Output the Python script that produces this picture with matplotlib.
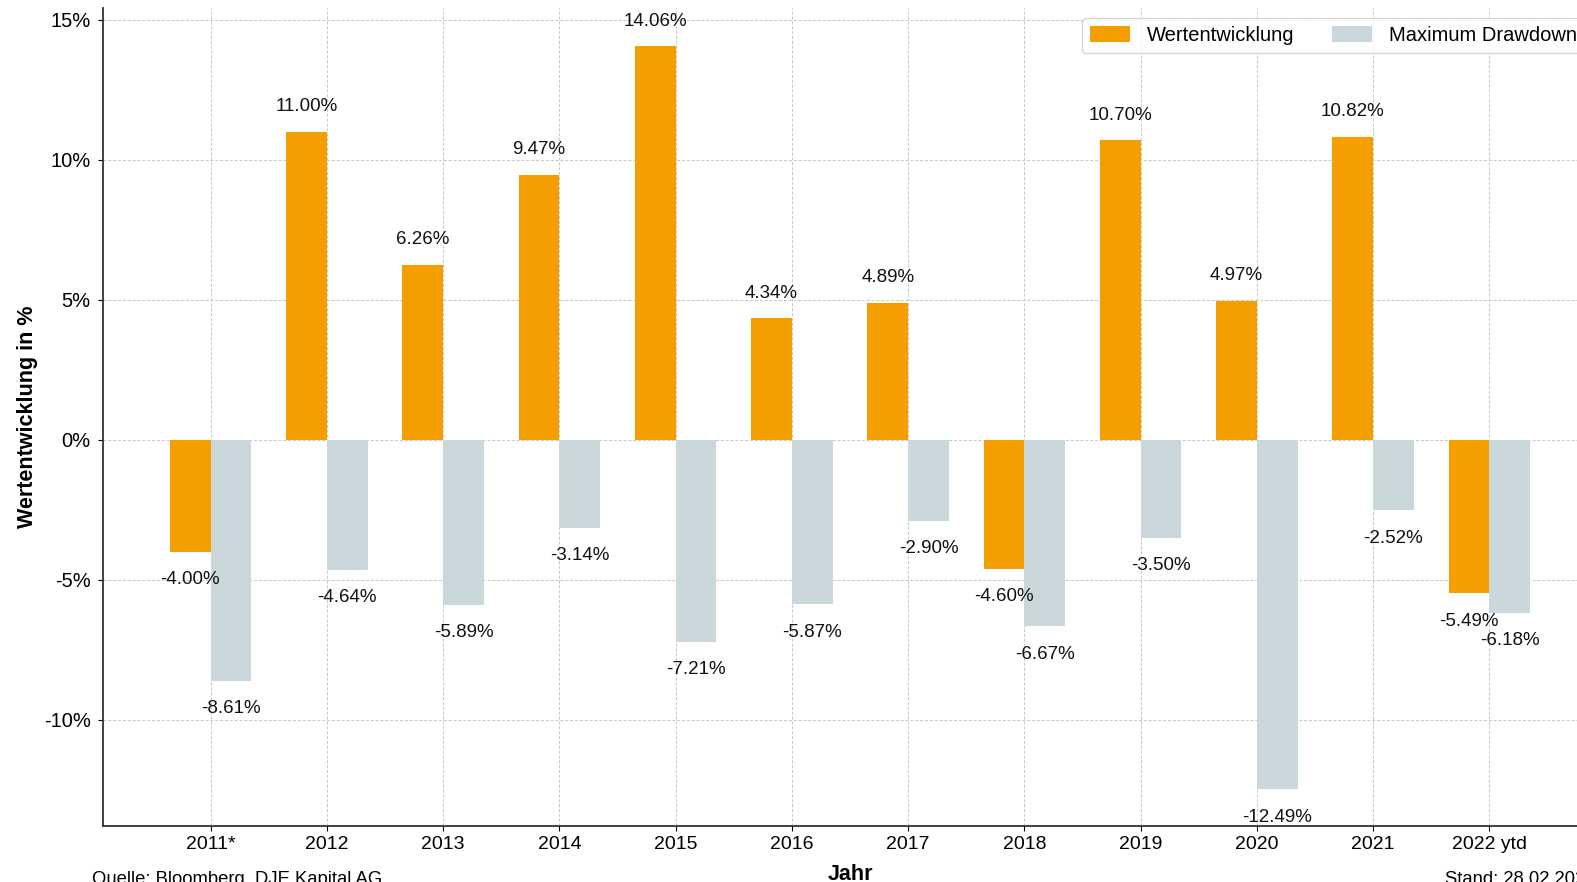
import matplotlib.pyplot as plt
import numpy as np

plt.rcParams['font.family'] = ['Liberation Sans', 'DejaVu Sans']

# Daten
jahre = ["2011*", "2012", "2013", "2014", "2015", "2016", "2017", "2018",
         "2019", "2020", "2021", "2022 ytd"]
wertentwicklung = [-4.00, 11.00, 6.26, 9.47, 14.06, 4.34, 4.89, -4.60,
                   10.70, 4.97, 10.82, -5.49]
drawdown = [-8.61, -4.64, -5.89, -3.14, -7.21, -5.87, -2.90, -6.67,
            -3.50, -12.49, -2.52, -6.18]

orange = "#F59E00"
grau = "#CBD8DB"
breite = 0.35

fig = plt.figure(figsize=(15.77, 8.82), dpi=100)
ax = fig.add_axes([0.065, 0.0635, 0.948, 0.9275])

x = np.arange(len(jahre))
b1 = ax.bar(x - breite / 2, wertentwicklung, breite, color=orange, label="Wertentwicklung", zorder=2)
b2 = ax.bar(x + breite / 2, drawdown, breite, color=grau, label="Maximum Drawdown", zorder=2)

# Beschriftungen an den Balken
for bars in (b1, b2):
    for rect in bars:
        h = rect.get_height()
        xc = rect.get_x() + rect.get_width() / 2
        if h >= 0:
            ax.annotate(f"{h:.2f}%", (xc, h), xytext=(0, 12), textcoords="offset points",
                        ha="center", va="bottom", fontsize=13.5, color="#111111")
        else:
            ax.annotate(f"{h:.2f}%", (xc, h), xytext=(0, -14), textcoords="offset points",
                        ha="center", va="top", fontsize=13.5, color="#111111")

ax.set_xlim(-0.93, 11.93)
ax.set_ylim(-13.8, 15.43)
ax.set_xticks(x)
ax.set_xticklabels(jahre, fontsize=14)
ax.set_yticks([-10, -5, 0, 5, 10, 15])
ax.set_yticklabels([f"{v}%" for v in [-10, -5, 0, 5, 10, 15]], fontsize=14.5)
ax.tick_params(axis="y", pad=5)

ax.grid(True, linestyle=(0, (3, 2)), color="#c6c6c6", linewidth=0.7, zorder=0)
ax.set_axisbelow(True)
for s in ("top", "right"):
    ax.spines[s].set_visible(False)
for s in ("left", "bottom"):
    ax.spines[s].set_linewidth(1.3)
    ax.spines[s].set_color("#333333")

ax.set_xlabel("Jahr", fontsize=15.5, fontweight="bold", labelpad=8)
ax.set_ylabel("Wertentwicklung in %", fontsize=15.5, fontweight="bold", labelpad=4)

leg = ax.legend(loc="upper left", bbox_to_anchor=(1082 / 1577, 1 - 18 / 882),
                bbox_transform=fig.transFigure, ncol=2, fontsize=14.5,
                frameon=True, fancybox=True, handlelength=2.0, handleheight=0.8,
                handletextpad=0.8, columnspacing=1.9, borderpad=0.4, borderaxespad=0)
leg.get_frame().set_edgecolor("#cccccc")

fig.text(92.5 / 1577, -0.002, "Quelle: Bloomberg, DJE Kapital AG", fontsize=13.3, va="baseline")
fig.text(1445 / 1577, -0.002, "Stand: 28.02.2022", fontsize=13.3, va="baseline")

fig.savefig("out.png", dpi=100)
